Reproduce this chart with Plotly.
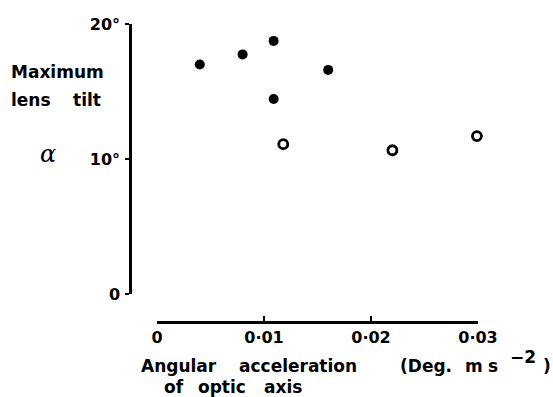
import plotly.graph_objects as go

# Data
filled_x = [0.004, 0.008, 0.0109, 0.016, 0.0109]
filled_y = [17.0, 17.75, 18.75, 16.6, 14.45]
open_x = [0.0118, 0.022, 0.0299]
open_y = [11.1, 10.65, 11.7]

x_tickvals = [0, 0.01, 0.02, 0.03]
x_ticktext = ["0", "0·01", "0·02", "0·03"]
y_tickvals = [0, 10, 20]
y_ticktext = ["0", "10°", "20°"]

W, H = 553, 397
FONT = "DejaVu Sans"

def px(x):
    return x / W

def py(y):
    return 1 - y / H

fig = go.Figure()
fig.add_trace(go.Scatter(
    x=filled_x, y=filled_y, mode="markers",
    marker=dict(symbol="circle", size=10, color="black", line=dict(width=0)),
    cliponaxis=False, showlegend=False))
fig.add_trace(go.Scatter(
    x=open_x, y=open_y, mode="markers",
    marker=dict(symbol="circle-open", size=9, color="black", line=dict(width=2.8)),
    cliponaxis=False, showlegend=False))

tickfont = dict(family=FONT, size=16, color="black", weight="bold")

fig.update_layout(
    template="none",
    width=W, height=H,
    margin=dict(l=0, r=0, t=0, b=0, autoexpand=False),
    paper_bgcolor="white", plot_bgcolor="white",
    xaxis=dict(
        domain=[px(157), px(478)], range=[0, 0.03],
        anchor="free", position=py(322), automargin=False,
        showgrid=False, zeroline=False,
        showline=True, linecolor="black", linewidth=2.5,
        ticks="inside", ticklen=5, tickwidth=2, tickcolor="black",
        tickvals=x_tickvals, ticktext=x_ticktext,
        tickfont=tickfont, ticklabelstandoff=0,
    ),
    yaxis=dict(
        domain=[py(294), py(24)], range=[0, 20],
        anchor="free", position=px(130), automargin=False,
        showgrid=False, zeroline=False,
        showline=True, linecolor="black", linewidth=2.5,
        ticks="outside", ticklen=4, tickwidth=2, tickcolor="black",
        tickvals=y_tickvals, ticktext=y_ticktext,
        tickfont=tickfont, ticklabelstandoff=2,
    ),
)

def ann(text, x, y, xanchor="left", size=17, family=FONT, italic=False, bold=True):
    fig.add_annotation(
        text=text, x=px(x), y=py(y), xref="paper", yref="paper",
        xanchor=xanchor, yanchor="middle", showarrow=False,
        font=dict(family=family, size=size, color="black",
                  weight="bold" if bold else "normal",
                  style="italic" if italic else "normal"),
    )

# y-axis title
ann("Maximum", 9, 72)
ann("lens", 9, 100)
ann("tilt", 103, 100, xanchor="right")
ann("α", 48, 154, xanchor="center", size=24, family="DejaVu Serif", italic=True, bold=False)

# x-axis title
ann("Angular", 139, 366)
ann("acceleration", 237, 366)
ann("(Deg.", 398, 366)
ann("m", 463, 366)
ann("s", 486, 366)
ann("−2", 508, 357)
ann(")", 541, 366)
ann("of", 162, 387)
ann("optic", 196, 387)
ann("axis", 262, 387)

fig.write_html("out.html")
